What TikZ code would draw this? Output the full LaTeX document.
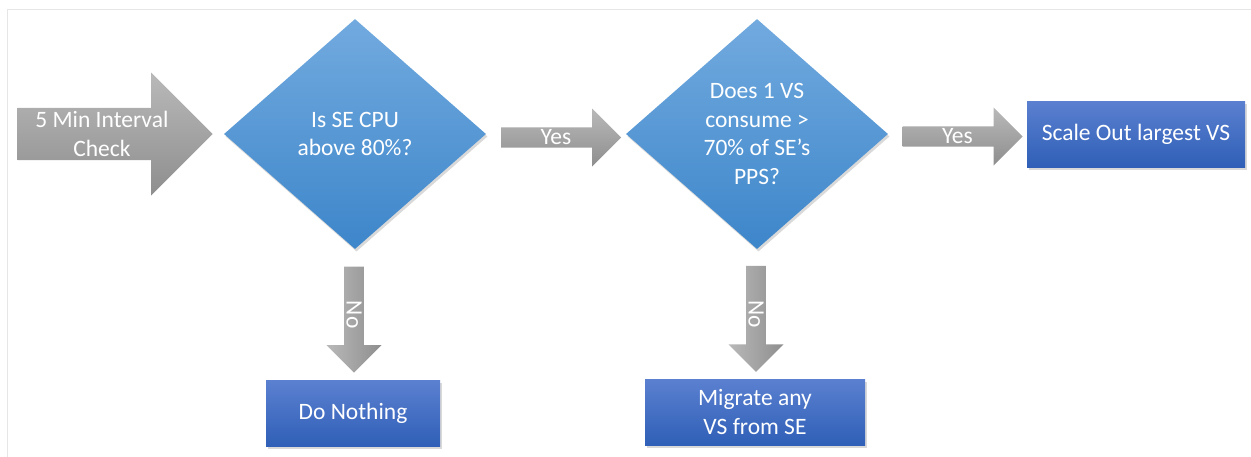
\documentclass[tikz,border=0pt]{standalone}
\usepackage{fontspec}
\setmainfont{Carlito}
\usetikzlibrary{shapes.geometric,shapes.arrows,shadows,calc}

\definecolor{decTop}{HTML}{72AADF}
\definecolor{decBot}{HTML}{3D86CA}
\definecolor{actTop}{HTML}{5B80D0}
\definecolor{actBot}{HTML}{2F5FB7}
\definecolor{arrTop}{HTML}{B9B9B9}
\definecolor{arrBot}{HTML}{8E8E8E}
\definecolor{frameline}{HTML}{E6E6E6}

\begin{document}
\begin{tikzpicture}[x=1pt, y=-1pt,
  every node/.style={text=white, font=\fontsize{23.5}{28.5}\selectfont, align=center},
  softshadow/.style={drop shadow={shadow xshift=1.5pt, shadow yshift=-2.5pt, opacity=.3}},
  decision/.style={diamond, aspect=1.14, inner sep=0pt, minimum width=262pt, minimum height=230pt,
    top color=decTop, bottom color=decBot, softshadow},
  action/.style={rectangle, inner sep=0pt, minimum height=66pt, top color=actTop, bottom color=actBot, softshadow},
  blockarrow/.style={single arrow, single arrow tip angle=90, inner sep=0pt, top color=arrTop, bottom color=arrBot},
  yesarrow/.style={blockarrow, minimum height=120pt, minimum width=58pt, single arrow head extend=14.5pt},
  noarrow/.style={blockarrow, rotate=-90, minimum height=106pt, minimum width=55pt, single arrow head extend=14pt,
    left color=arrTop, right color=arrBot}
]
  \useasboundingbox (0,0) rectangle (1251,456);
  \draw[frameline] (7,460) -- (7,9) -- (1255,9);

  % decisions
  \node[decision] (cpu) at (355,134) {Is SE CPU\\above 80\%?};
  \node[decision] (pps) at (757,134) {Does 1 VS\\consume >\\70\% of SE’s\\PPS?};

  % actions
  \node[action, minimum width=218pt] (scale) at (1136,134) {Scale Out largest VS};
  \node[action, minimum width=174pt] (nothing) at (353,413.5) {Do Nothing};
  \node[action, minimum width=220pt] (migrate) at (755,412) {Migrate any\\VS from SE};

  % block arrows
  \node[blockarrow, anchor=tip, minimum height=195pt, minimum width=123pt, single arrow head extend=30.5pt]
    (check) at ([xshift=-11pt]cpu.west) {5 Min Interval\\Check};
  \node[yesarrow] (yes1) at ($(cpu.east)!0.5!(pps.west)+(0,3.5)$) {Yes};
  \node[yesarrow] (yes2) at ($(pps.east)!0.5!(scale.west)+(0,2.5)$) {Yes};
  \node[noarrow] (no1) at ($(cpu.south)!0.5!(nothing.north)$) {No};
  \node[noarrow] (no2) at ($(pps.south)!0.5!(migrate.north)$) {No};
\end{tikzpicture}
\end{document}
